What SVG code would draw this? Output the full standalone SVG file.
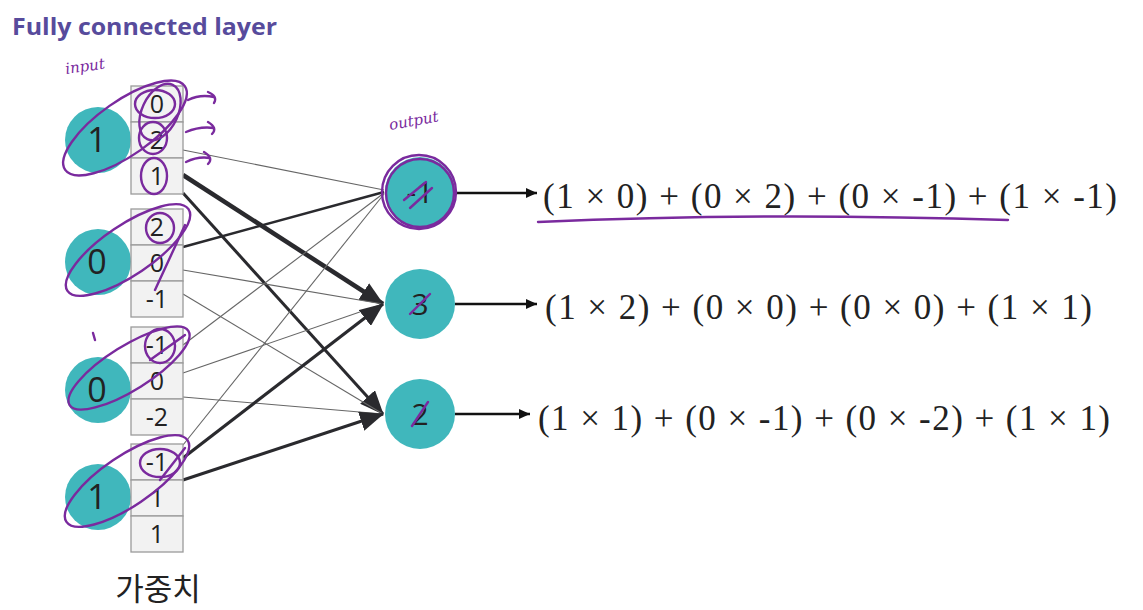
<svg xmlns="http://www.w3.org/2000/svg" width="1143" height="610" viewBox="0 0 1143 610">
<style>
.cell{fill:#f2f2f2;stroke:#9a9a9a;stroke-width:1.3}
.num{font-family:"Open Sans","Liberation Sans",sans-serif;font-size:25px;fill:#222;text-anchor:middle}
.big{font-family:"Open Sans","Liberation Sans",sans-serif;font-size:34px;fill:#222;text-anchor:middle}
.onum{font-family:"Open Sans","Liberation Sans",sans-serif;font-size:30px;fill:#222;text-anchor:middle}
.node{fill:#40b7bc}
.thin{stroke:#666;stroke-width:1.1;fill:none}
.dark{stroke:#2a2a2e;fill:none}
.eq{font-family:"Liberation Serif","DejaVu Serif",serif;font-size:35px;fill:#222}
.pen{fill:none;stroke:#7a2a9e;stroke-width:2.4;stroke-linecap:round}
.hand{font-family:"DejaVu Serif",serif;font-style:italic;font-size:15px;fill:#7a2a9e}
</style>
<defs>
<marker id="ah" markerUnits="userSpaceOnUse" markerWidth="24" markerHeight="20" refX="23" refY="10" orient="auto">
<path d="M0,0 L24,10 L0,20 z" fill="#2a2a2e"/>
</marker>
<marker id="sh" markerUnits="userSpaceOnUse" markerWidth="11" markerHeight="10" refX="11" refY="5" orient="auto">
<path d="M0,0 L11,5 L0,10 z" fill="#111"/>
</marker>
</defs>
<rect width="1143" height="610" fill="#ffffff"/>
<text x="12" y="35" font-family="Open Sans,Liberation Sans,sans-serif" font-weight="700" font-size="24" fill="#574b9c" textLength="265" lengthAdjust="spacingAndGlyphs">Fully connected layer</text>

<g id="connectors">
<line class="thin" x1="183" y1="150" x2="384" y2="190"/>
<line class="dark" stroke-width="4.5" x1="183" y1="175" x2="383" y2="304" marker-end="url(#ah)"/>
<line class="dark" stroke-width="3" x1="183" y1="193" x2="383" y2="414" marker-end="url(#ah)"/>
<line class="dark" stroke-width="2.5" x1="183" y1="247" x2="384" y2="192"/>
<line class="thin" x1="183" y1="270" x2="383" y2="304"/>
<line class="thin" x1="183" y1="294" x2="383" y2="414"/>
<line class="thin" x1="183" y1="345" x2="384" y2="193"/>
<line class="thin" x1="183" y1="373" x2="383" y2="304"/>
<line class="thin" x1="183" y1="397" x2="383" y2="414"/>
<line class="thin" x1="183" y1="445" x2="384" y2="194"/>
<line class="dark" stroke-width="3.2" x1="183" y1="458" x2="383" y2="304" marker-end="url(#ah)"/>
<line class="dark" stroke-width="3.2" x1="183" y1="480" x2="383" y2="414" marker-end="url(#ah)"/>
<line stroke="#111" stroke-width="2.5" x1="455" y1="193" x2="537" y2="193" marker-end="url(#sh)"/>
<line stroke="#111" stroke-width="2.5" x1="455" y1="304" x2="537" y2="304" marker-end="url(#sh)"/>
<line stroke="#111" stroke-width="2.5" x1="455" y1="414" x2="530" y2="414" marker-end="url(#sh)"/>
</g>

<g id="input1">
<circle class="node" cx="98" cy="140" r="33"/>
<text class="big" x="97" y="152">1</text>
<rect class="cell" x="131" y="86" width="52" height="36"/>
<rect class="cell" x="131" y="122" width="52" height="36"/>
<rect class="cell" x="131" y="158" width="52" height="36"/>
<text class="num" x="157" y="113">0</text>
<text class="num" x="157" y="149">2</text>
<text class="num" x="157" y="185">1</text>
</g>
<g id="input2">
<circle class="node" cx="98" cy="262" r="33"/>
<text class="big" x="97" y="274">0</text>
<rect class="cell" x="131" y="209" width="52" height="36"/>
<rect class="cell" x="131" y="245" width="52" height="36"/>
<rect class="cell" x="131" y="281" width="52" height="36"/>
<text class="num" x="157" y="236">2</text>
<text class="num" x="157" y="272">0</text>
<text class="num" x="157" y="308">-1</text>
</g>
<g id="input3">
<circle class="node" cx="98" cy="390" r="33"/>
<text class="big" x="97" y="402">0</text>
<rect class="cell" x="131" y="327" width="52" height="36"/>
<rect class="cell" x="131" y="363" width="52" height="36"/>
<rect class="cell" x="131" y="399" width="52" height="36"/>
<text class="num" x="157" y="354">-1</text>
<text class="num" x="157" y="390">0</text>
<text class="num" x="157" y="426">-2</text>
</g>
<g id="input4">
<circle class="node" cx="98" cy="497" r="33"/>
<text class="big" x="97" y="509">1</text>
<rect class="cell" x="131" y="444" width="52" height="36"/>
<rect class="cell" x="131" y="480" width="52" height="36"/>
<rect class="cell" x="131" y="516" width="52" height="36"/>
<text class="num" x="157" y="471">-1</text>
<text class="num" x="157" y="507">1</text>
<text class="num" x="157" y="543">1</text>
</g>
<text x="158" y="600" font-family="Noto Sans CJK KR,sans-serif" font-size="31" fill="#222" text-anchor="middle">가중치</text>

<g id="output1">
<circle class="node" cx="420" cy="192" r="35"/>
<text class="onum" x="420" y="203">-1</text>
</g>
<g id="output2">
<circle class="node" cx="420" cy="304" r="35"/>
<text class="onum" x="420" y="315">3</text>
</g>
<g id="output3">
<circle class="node" cx="420" cy="414" r="35"/>
<text class="onum" x="420" y="425">2</text>
</g>

<g id="equations">
<text class="eq" x="543" y="208" textLength="574" lengthAdjust="spacing">(1 × 0) + (0 × 2) + (0 × -1) + (1 × -1)</text>
<text class="eq" x="545" y="319" textLength="547" lengthAdjust="spacing">(1 × 2) + (0 × 0) + (0 × 0) + (1 × 1)</text>
<text class="eq" x="538" y="430" textLength="572" lengthAdjust="spacing">(1 × 1) + (0 × -1) + (0 × -2) + (1 × 1)</text>
</g>

<g id="annotations">
<text class="hand" x="66" y="74" transform="rotate(-8 66 74)">input</text>
<text class="hand" x="390" y="130" transform="rotate(-10 390 130)">output</text>
<ellipse class="pen" cx="125" cy="128" rx="73" ry="27" transform="rotate(-35 125 128)"/>
<ellipse class="pen" cx="155" cy="104" rx="20" ry="14"/>
<ellipse class="pen" cx="153" cy="138" rx="14" ry="16"/>
<ellipse class="pen" cx="154" cy="176" rx="13" ry="18"/>
<ellipse class="pen" cx="160" cy="112" rx="18" ry="30" transform="rotate(25 160 112)"/>
<path class="pen" d="M188,100 Q200,94 214,97 M208,92 Q218,96 214,103"/>
<path class="pen" d="M186,132 Q200,126 214,128 M208,122 Q218,128 212,134"/>
<path class="pen" d="M186,162 Q198,156 210,158 M204,152 Q214,158 208,164"/>
<ellipse class="pen" cx="128" cy="250" rx="73" ry="25" transform="rotate(-34 128 250)"/>
<ellipse class="pen" cx="160" cy="228" rx="14" ry="15"/>
<path class="pen" d="M155,290 L185,225"/>
<ellipse class="pen" cx="129" cy="368" rx="70" ry="22" transform="rotate(-32 129 368)"/>
<ellipse class="pen" cx="160" cy="346" rx="15" ry="17"/>
<path class="pen" d="M150,360 L185,335"/>
<path class="pen" d="M93,333 L95,340"/>
<ellipse class="pen" cx="127" cy="481" rx="73" ry="25" transform="rotate(-34 127 481)"/>
<ellipse class="pen" cx="160" cy="463" rx="20" ry="14"/>
<path class="pen" d="M160,480 L185,448"/>
<circle class="pen" cx="419" cy="192" r="37" stroke-width="4"/>
<circle class="pen" cx="420" cy="193" r="34" stroke-width="2"/>
<path class="pen" d="M404,200 L426,182 M410,208 L432,188"/>
<path class="pen" d="M410,314 L430,294"/>
<path class="pen" d="M412,426 L428,402"/>
<path class="pen" d="M538,222 Q760,212 1008,220"/>
</g>
</svg>
